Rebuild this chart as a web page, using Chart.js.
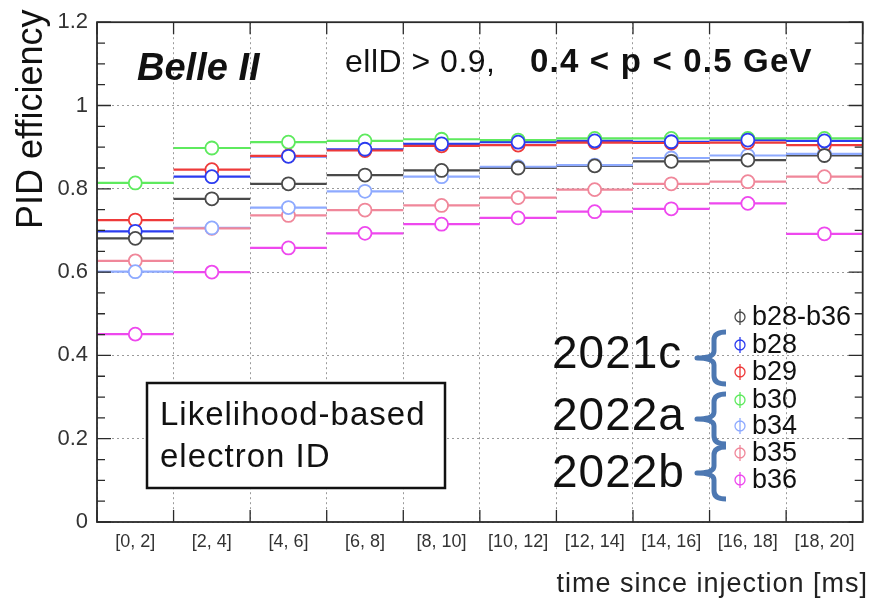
<!DOCTYPE html>
<html>
<head>
<meta charset="utf-8">
<script src="https://cdn.jsdelivr.net/npm/chart.js@4.4.1/dist/chart.umd.min.js"></script>
<style>
  html, body { margin: 0; padding: 0; background: #fff; }
  #wrap { width: 871px; height: 610px; }
</style>
</head>
<body>
<div id="wrap"><canvas id="c" width="871" height="610"></canvas></div>
<script>
// Time bins since injection [ms]
const binLow    = [0, 2, 4, 6, 8, 10, 12, 14, 16, 18];
const binHigh   = [2, 4, 6, 8, 10, 12, 14, 16, 18, 20];
const binLabels = ["[0, 2]", "[2, 4]", "[4, 6]", "[6, 8]", "[8, 10]",
                   "[10, 12]", "[12, 14]", "[14, 16]", "[16, 18]", "[18, 20]"];

// PID efficiency per time bin, one array per run range
const effB28toB36 = [0.681, 0.776, 0.812, 0.833, 0.844, 0.850, 0.855, 0.866, 0.869, 0.880];
const effB28      = [0.698, 0.829, 0.878, 0.895, 0.908, 0.912, 0.915, 0.913, 0.917, 0.915];
const effB29      = [0.725, 0.846, 0.879, 0.892, 0.903, 0.905, 0.911, 0.910, 0.911, 0.905];
const effB30      = [0.814, 0.898, 0.912, 0.915, 0.919, 0.917, 0.921, 0.921, 0.921, 0.921];
const effB34      = [0.601, 0.706, 0.755, 0.794, 0.829, 0.853, 0.857, 0.874, 0.880, 0.884];
const effB35      = [0.627, 0.705, 0.736, 0.749, 0.760, 0.779, 0.798, 0.812, 0.817, 0.829];
const effB36      = [0.451, 0.600, 0.658, 0.693, 0.715, 0.730, 0.745, 0.752, 0.765, 0.692];

const seriesNames  = ["b28-b36", "b28", "b29", "b30", "b34", "b35", "b36"];
const seriesValues = [effB28toB36, effB28, effB29, effB30, effB34, effB35, effB36];
const seriesColors = ["#4a4a4a", "#2b3cf0", "#ee3a3a", "#5eea5e", "#8eaaff", "#f0879a", "#ee48ee"];

// Data-taking periods grouping the single-run series
const periodNames = ["2021c", "2022a", "2022b"];

const FONT = "'Liberation Sans', Arial, Helvetica, sans-serif";
Chart.defaults.font.family = FONT;
Chart.defaults.color = "#333";

const datasets = seriesNames.map((name, k) => ({
  label: name,
  data: seriesValues[k].map((v, i) => ({
    x: (binLow[i] + binHigh[i]) / 2, y: v, xlo: binLow[i], xhi: binHigh[i]
  })),
  borderColor: seriesColors[k],
  backgroundColor: "#ffffff",
  pointRadius: 6.5,
  pointBorderWidth: 1.8,
  showLine: false,
  xAxisID: "x",
  yAxisID: "y"
}));

// Horizontal bars spanning each time bin
const binWidthBars = {
  id: "binWidthBars",
  beforeDatasetsDraw(chart) {
    const { ctx, scales: { x, y } } = chart;
    ctx.save();
    ctx.lineWidth = 2.2;
    chart.data.datasets.forEach((ds, i) => {
      if (!chart.isDatasetVisible(i)) return;
      ctx.strokeStyle = ds.borderColor;
      ctx.beginPath();
      ds.data.forEach(p => {
        const py = y.getPixelForValue(p.y);
        ctx.moveTo(x.getPixelForValue(p.xlo), py);
        ctx.lineTo(x.getPixelForValue(p.xhi), py);
      });
      ctx.stroke();
    });
    ctx.restore();
  }
};

// Frame with inward-pointing ticks on all four sides
const framePlugin = {
  id: "frame",
  afterDatasetsDraw(chart) {
    const { ctx, chartArea: a, scales: { x, y } } = chart;
    ctx.save();
    ctx.strokeStyle = "#2a2a2a";
    ctx.lineWidth = 1.8;
    ctx.strokeRect(a.left, a.top, a.right - a.left, a.bottom - a.top);
    ctx.lineWidth = 1.3;
    ctx.beginPath();
    const major = y.ticks.map(t => t.value);
    for (let i = 0; i < major.length; i++) {
      const py = y.getPixelForValue(major[i]);
      ctx.moveTo(a.left, py);  ctx.lineTo(a.left + 14, py);
      ctx.moveTo(a.right, py); ctx.lineTo(a.right - 14, py);
      if (i < major.length - 1) {
        const step = (major[i + 1] - major[i]) / 4;
        for (let k = 1; k < 4; k++) {
          const pm = y.getPixelForValue(major[i] + k * step);
          ctx.moveTo(a.left, pm);  ctx.lineTo(a.left + 8, pm);
          ctx.moveTo(a.right, pm); ctx.lineTo(a.right - 8, pm);
        }
      }
    }
    x.ticks.forEach(t => {
      const px = x.getPixelForValue(t.value);
      ctx.moveTo(px, a.bottom); ctx.lineTo(px, a.bottom - 12);
      ctx.moveTo(px, a.top);    ctx.lineTo(px, a.top + 12);
    });
    ctx.stroke();
    ctx.restore();
  }
};

// Titles, labels, info box and grouped legend
const annotations = {
  id: "annotations",
  afterDraw(chart) {
    const { ctx } = chart;
    ctx.save();
    ctx.fillStyle = "#111";
    ctx.textBaseline = "alphabetic";

    // axis titles
    ctx.save();
    ctx.translate(42, 229);
    ctx.rotate(-Math.PI / 2);
    ctx.font = `36px ${FONT}`;
    ctx.textAlign = "left";
    ctx.fillText("PID efficiency", 0, 0);
    ctx.restore();

    ctx.font = `27px ${FONT}`;
    ctx.letterSpacing = "1px";
    ctx.textAlign = "right";
    ctx.fillStyle = "#222";
    ctx.fillText("time since injection [ms]", 868, 592);

    // experiment tag and selection
    ctx.textAlign = "left";
    ctx.fillStyle = "#111";
    ctx.letterSpacing = "0px";
    ctx.font = `italic bold 38px ${FONT}`;
    ctx.fillText("Belle II", 137, 80);
    ctx.font = `32px ${FONT}`;
    ctx.letterSpacing = "0.5px";
    ctx.fillText("ellD > 0.9,", 345, 72);
    ctx.font = `bold 33px ${FONT}`;
    ctx.letterSpacing = "1.2px";
    ctx.fillText("0.4 < p < 0.5 GeV", 530, 72);

    // method box
    ctx.letterSpacing = "0px";
    ctx.fillStyle = "#fff";
    ctx.fillRect(147, 383, 298, 105);
    ctx.strokeStyle = "#111";
    ctx.lineWidth = 2.5;
    ctx.strokeRect(147, 383, 298, 105);
    ctx.fillStyle = "#111";
    ctx.font = `33px ${FONT}`;
    ctx.letterSpacing = "1px";
    ctx.fillText("Likelihood-based", 160, 425);
    ctx.fillText("electron ID", 160, 467);
    ctx.letterSpacing = "0px";

    // legend entries
    const rowY = [317, 345, 372, 400, 426, 453, 480];
    const symX = 740;
    seriesNames.forEach((name, k) => {
      const cy = rowY[k];
      ctx.strokeStyle = seriesColors[k];
      ctx.lineWidth = 1.3;
      ctx.beginPath();
      ctx.arc(symX, cy, 5, 0, Math.PI * 2);
      ctx.moveTo(symX, cy - 8);
      ctx.lineTo(symX, cy + 8);
      ctx.stroke();
      ctx.fillStyle = "#111";
      ctx.font = `27px ${FONT}`;
      ctx.textBaseline = "middle";
      ctx.fillText(name, 752, cy + 1);
    });

    // period brackets
    const brTop = [332, 394, 447], brBot = [384, 444, 499];
    const xv = 714, xr = 726, tip = 697;
    ctx.strokeStyle = "#4d78b2";
    ctx.lineWidth = 5;
    ctx.lineJoin = "round";
    periodNames.forEach((p, j) => {
      const t = brTop[j], b = brBot[j], m = (t + b) / 2;
      ctx.beginPath();
      ctx.moveTo(xr, t);
      ctx.quadraticCurveTo(xv, t, xv, t + 8);
      ctx.lineTo(xv, m - 7);
      ctx.quadraticCurveTo(xv, m, tip, m);
      ctx.quadraticCurveTo(xv, m, xv, m + 7);
      ctx.lineTo(xv, b - 8);
      ctx.quadraticCurveTo(xv, b, xr, b);
      ctx.stroke();
    });
    const periodBase = [368, 430, 487];
    ctx.textBaseline = "alphabetic";
    ctx.fillStyle = "#111";
    ctx.font = `46px ${FONT}`;
    ctx.letterSpacing = "1px";
    periodNames.forEach((p, j) => ctx.fillText(p, 552, periodBase[j]));

    ctx.restore();
  }
};

new Chart(document.getElementById("c"), {
  type: "scatter",
  data: { labels: binLabels, datasets },
  options: {
    responsive: false,
    animation: false,
    layout: { padding: { top: 18, right: 2, left: 0, bottom: 0 } },
    plugins: { legend: { display: false }, tooltip: { enabled: false } },
    scales: {
      x: {
        type: "linear",
        position: "bottom",
        min: binLow[0],
        max: binHigh[binHigh.length - 1],
        ticks: { display: false, stepSize: 2 },
        grid: { color: "#9a9a9a", lineWidth: 1, drawTicks: false },
        border: { display: false, dash: [2, 3] },
        afterFit(s) { s.height = 0; }
      },
      xc: {
        type: "category",
        position: "bottom",
        labels: binLabels,
        offset: true,
        grid: { display: false, drawTicks: false },
        border: { display: false },
        ticks: { font: { size: 18 }, color: "#333", padding: 9, autoSkip: false, maxRotation: 0 },
        afterFit(s) { s.height = 88; }
      },
      y: {
        type: "linear",
        min: 0,
        max: 1.2,
        ticks: {
          stepSize: 0.2,
          font: { size: 22 },
          color: "#333",
          padding: 9,
          callback: v => String(+v.toFixed(1))
        },
        grid: { color: "#9a9a9a", lineWidth: 1, drawTicks: false },
        border: { display: false, dash: [2, 3] },
        afterFit(s) { s.width = 97; }
      }
    }
  },
  plugins: [binWidthBars, framePlugin, annotations]
});
</script>
</body>
</html>
